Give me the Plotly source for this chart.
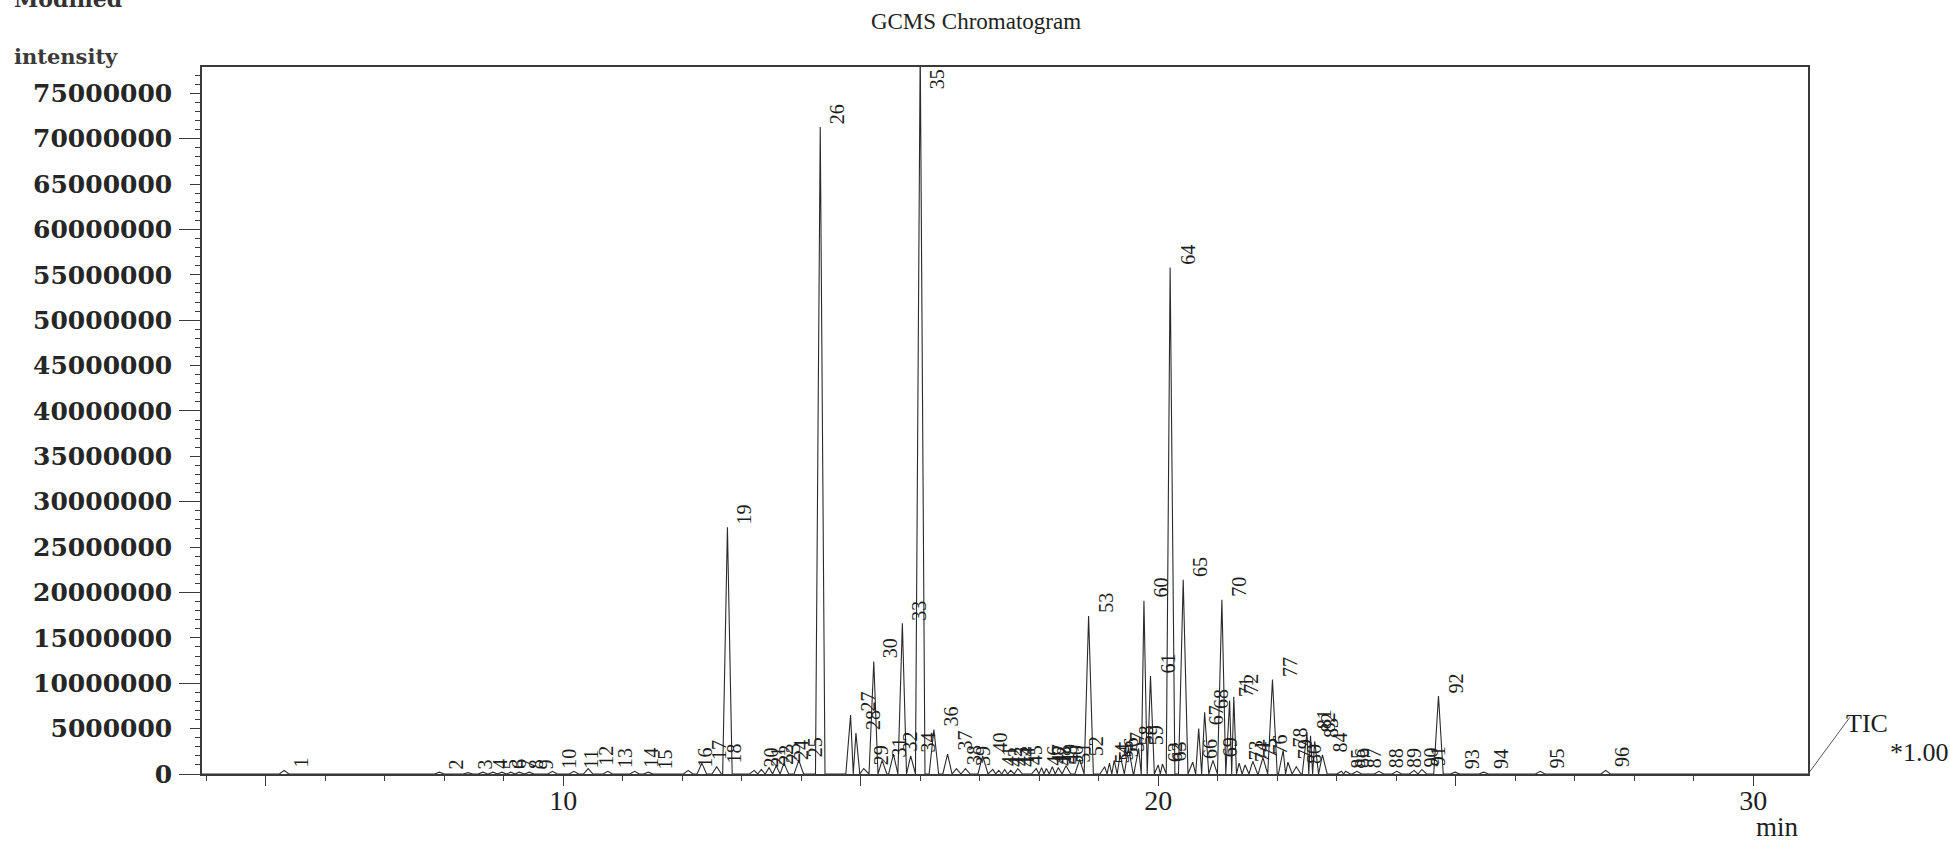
import plotly.graph_objects as go

# ---------------- data ----------------
peak_numbers = list(range(1, 97))

retention_times = [
    5.31, 7.92, 8.40, 8.65, 8.82, 8.97, 9.12, 9.26, 9.43, 9.82,
    10.18, 10.42, 10.75, 11.20, 11.43, 12.10, 12.33, 12.58, 12.76, 13.21,
    13.33, 13.46, 13.58, 13.71, 13.96, 14.32, 14.83, 14.92, 15.05, 15.22,
    15.36, 15.55, 15.70, 15.84, 16.00, 16.23, 16.46, 16.61, 16.76, 17.05,
    17.22, 17.32, 17.42, 17.52, 17.64, 17.95, 18.04, 18.12, 18.22, 18.32,
    18.45, 18.68, 18.83, 19.10, 19.18, 19.26, 19.36, 19.50, 19.67, 19.76,
    19.87, 20.00, 20.07, 20.20, 20.42, 20.58, 20.68, 20.78, 20.92, 21.07,
    21.20, 21.27, 21.36, 21.46, 21.59, 21.76, 21.92, 22.10, 22.18, 22.32,
    22.50, 22.56, 22.63, 22.76, 23.08, 23.15, 23.34, 23.71, 24.01, 24.30,
    24.43, 24.71, 24.99, 25.47, 26.42, 27.52,
]

peak_heights = [
    400000, 200000, 150000, 200000, 200000, 200000, 200000, 200000, 200000, 300000,
    300000, 600000, 300000, 300000, 200000, 400000, 1200000, 800000, 27200000, 400000,
    500000, 700000, 900000, 1200000, 1500000, 71300000, 6500000, 4500000, 600000, 12400000,
    1500000, 2200000, 16600000, 2000000, 80000000, 4900000, 2200000, 600000, 600000, 2000000,
    500000, 400000, 500000, 400000, 600000, 600000, 700000, 600000, 800000, 700000,
    900000, 1600000, 17400000, 800000, 1200000, 1500000, 2100000, 2900000, 2800000, 19100000,
    10800000, 1000000, 1100000, 55800000, 21400000, 1300000, 5000000, 6800000, 1500000, 19200000,
    8100000, 8500000, 1200000, 1000000, 1400000, 1800000, 10400000, 2600000, 1300000, 800000,
    4600000, 4200000, 3600000, 2100000, 300000, 300000, 300000, 300000, 300000, 400000,
    500000, 8600000, 200000, 200000, 300000, 400000,
]

y_tick_values = [0, 5000000, 10000000, 15000000, 20000000, 25000000, 30000000, 35000000,
                 40000000, 45000000, 50000000, 55000000, 60000000, 65000000, 70000000, 75000000]
y_tick_labels = [str(v) for v in y_tick_values]
y_long_tick_values = [0, 10000000, 20000000, 30000000, 40000000, 50000000, 60000000, 70000000]

x_tick_values = [5, 10, 15, 20, 25, 30]
x_tick_labels = ["", "10", "", "20", "", "30"]

# ---------------- styling / geometry ----------------
X_RANGE = [3.93, 30.92]
Y_RANGE = [0, 77900000]
HALF_WIDTH = 0.08
LINE_COLOR = "#2b2b2b"
FRAME_COLOR = "#3a3a3a"
SERIF = "Liberation Serif, Times New Roman, serif"
WIDE_SERIF = "DejaVu Serif, serif"

# chromatogram trace: each peak drawn as a narrow spike on the baseline
xs = [X_RANGE[0]]
ys = [0]
n = len(retention_times)
for i, (t, h) in enumerate(zip(retention_times, peak_heights)):
    gap_l = t - retention_times[i - 1] if i > 0 else 1.0
    gap_r = retention_times[i + 1] - t if i < n - 1 else 1.0
    wl = min(HALF_WIDTH, gap_l / 2)
    wr = min(HALF_WIDTH, gap_r / 2)
    xs += [t - wl, t, t + wr]
    ys += [0, h, 0]
xs.append(X_RANGE[1])
ys.append(0)

fig = go.Figure()
fig.add_trace(go.Scatter(x=xs, y=ys, mode="lines",
                         line=dict(color=LINE_COLOR, width=1.1),
                         hoverinfo="skip", showlegend=False))
# empty trace so the secondary (long-tick) y axis is rendered
fig.add_trace(go.Scatter(x=[], y=[], yaxis="y2", showlegend=False, hoverinfo="skip"))

annotations = []
for num, t, h in zip(peak_numbers, retention_times, peak_heights):
    clipped = h > Y_RANGE[1]
    annotations.append(dict(
        x=t, y=min(h, Y_RANGE[1]), xref="x", yref="y",
        text=str(num), textangle=-90, showarrow=False,
        xanchor="center", yanchor="top" if clipped else "bottom",
        xshift=17, yshift=0 if clipped else 1,
        font=dict(family=SERIF, size=20, color="#1e1e1e"),
    ))

# text outside the plotting area
annotations += [
    dict(text="intensity", xref="paper", yref="paper", x=-0.118, y=1.0155,
         xanchor="left", yanchor="middle", showarrow=False,
         font=dict(family=WIDE_SERIF, size=21, color="#3a3a3a", weight="bold")),
    dict(text="Modified", xref="paper", yref="paper", x=-0.118, y=1.0755,
         xanchor="left", yanchor="bottom", showarrow=False,
         font=dict(family=WIDE_SERIF, size=22, color="#333333", weight="bold")),
    dict(text="min", xref="paper", yref="paper", x=0.981, y=-0.075,
         xanchor="center", yanchor="middle", showarrow=False,
         font=dict(family=SERIF, size=27, color="#1e1e1e")),
    dict(text="TIC", xref="paper", yref="paper", x=1.037, y=0.071,
         xanchor="center", yanchor="middle", showarrow=False,
         font=dict(family=SERIF, size=26, color="#1e1e1e")),
    dict(text="*1.00", xref="paper", yref="paper", x=1.050, y=0.030,
         xanchor="left", yanchor="middle", showarrow=False,
         font=dict(family=SERIF, size=26, color="#1e1e1e")),
]

fig.update_layout(
    width=1950, height=841,
    margin=dict(l=202, r=142, t=67, b=67),
    paper_bgcolor="white", plot_bgcolor="white",
    title=dict(text="GCMS Chromatogram", x=976 / 1950, xref="container", xanchor="center",
               y=1 - 21 / 841, yref="container", yanchor="middle",
               font=dict(family=SERIF, size=23, color="#222222")),
    annotations=annotations,
    shapes=[dict(type="line", xref="paper", yref="paper", x0=1.0, y0=0.0, x1=1.026, y1=0.080,
                 line=dict(color="#555555", width=1))],
    xaxis=dict(range=X_RANGE, showgrid=False, zeroline=False,
               showline=True, mirror=True, linecolor=FRAME_COLOR, linewidth=1.5,
               tickvals=x_tick_values, ticktext=x_tick_labels,
               ticks="outside", ticklen=10, tickwidth=1.2, tickcolor=FRAME_COLOR,
               ticklabelstandoff=-9,
               minor=dict(dtick=1, tick0=0, ticks="outside", ticklen=5, tickwidth=1,
                          tickcolor=FRAME_COLOR),
               tickfont=dict(family=SERIF, size=28, color="#1e1e1e")),
    yaxis=dict(range=Y_RANGE, showgrid=False, zeroline=False,
               showline=True, mirror=True, linecolor=FRAME_COLOR, linewidth=1.5,
               tickvals=y_tick_values, ticktext=y_tick_labels,
               ticks="outside", ticklen=10, tickwidth=1.2, tickcolor=FRAME_COLOR,
               ticklabelstandoff=13,
               minor=dict(dtick=1000000, tick0=0, ticks="outside", ticklen=5, tickwidth=1,
                          tickcolor=FRAME_COLOR),
               tickfont=dict(family=WIDE_SERIF, size=25, color="#262626", weight="bold")),
    yaxis2=dict(range=Y_RANGE, overlaying="y", side="left", anchor="x",
                showgrid=False, zeroline=False, showline=False,
                tickvals=y_long_tick_values, ticks="outside", ticklen=22, tickwidth=1.2,
                tickcolor=FRAME_COLOR, showticklabels=False),
)

# remove the browser's default 8px page margin so the figure sits at the window corner
fig.write_html("out.html", config={"displayModeBar": False},
               post_script="document.body.style.margin='0';document.body.style.padding='0';")
